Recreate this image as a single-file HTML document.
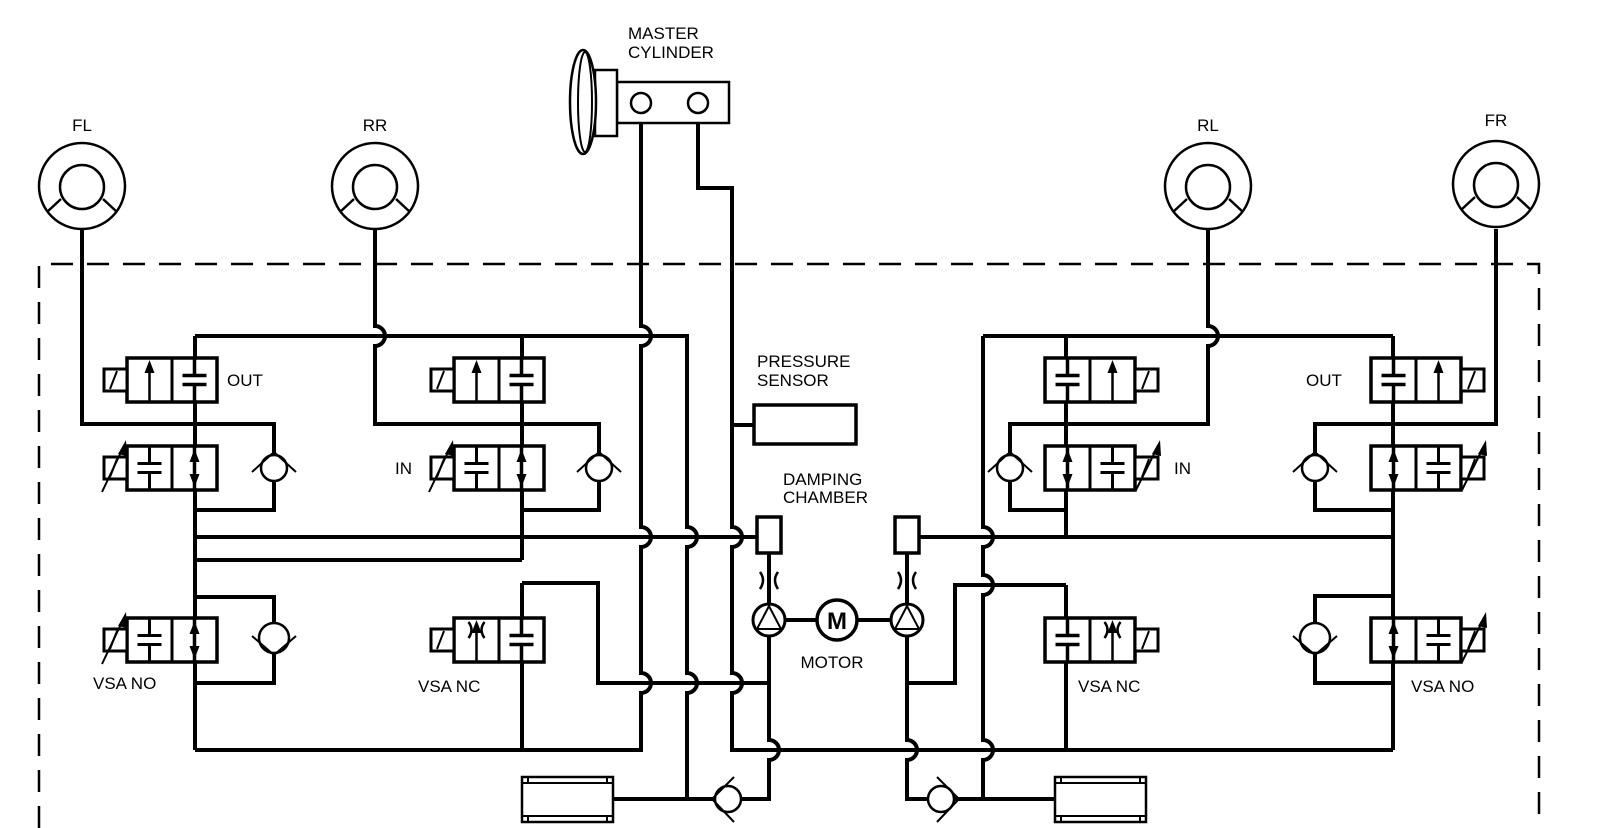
<!DOCTYPE html>
<html><head><meta charset="utf-8"><style>
html,body{margin:0;padding:0;background:#fff;width:1600px;height:828px;overflow:hidden}
svg{display:block}
text{font-family:"Liberation Sans",Arial,sans-serif;font-size:17px;fill:#000}
</style></head><body>
<svg width="1600" height="828" viewBox="0 0 1600 828" xmlns="http://www.w3.org/2000/svg">
<defs>
<g id="eqP"><path d="M0 -22V-4.5M-12 -4.5H12M-12 4.5H12M0 4.5V22" stroke="#000" stroke-width="3.5" fill="none"/></g>
<g id="eqT"><path d="M0 -22V-4.5M-12 -4.5H12M-12 4.5H12M0 4.5V22" stroke="#000" stroke-width="3" fill="none"/></g>
<g id="arU"><path d="M0 22V-10" stroke="#000" stroke-width="2.5"/><polygon points="0,-20 -5,-7 5,-7" fill="#000"/></g>
<g id="dbl"><path d="M0 -22V22" stroke="#000" stroke-width="3.5"/><polygon points="0,-19 -5,-6 5,-6" fill="#000"/><polygon points="0,19 -5,6 5,6" fill="#000"/></g>
<g id="ori"><path d="M-8 -18 Q-2 -10 -8 -2 M8 -18 Q2 -10 8 -2" stroke="#000" stroke-width="2.5" fill="none"/></g>
<g id="box"><rect x="-45" y="-22" width="90" height="44" fill="#fff" stroke="#000" stroke-width="3.5"/><path d="M0 -22V22" stroke="#000" stroke-width="3"/></g>
<g id="solL"><rect x="-68" y="-11" width="23" height="22" fill="#fff" stroke="#000" stroke-width="3"/><path d="M-62 9L-55 -9" stroke="#000" stroke-width="2"/></g>
<g id="solR"><rect x="45" y="-11" width="23" height="22" fill="#fff" stroke="#000" stroke-width="3"/><path d="M52 9L59 -9" stroke="#000" stroke-width="2"/></g>
<g id="varL"><path d="M-70 24L-50 -18" stroke="#000" stroke-width="2"/><polygon points="-46,-28 -54,-14 -45,-12" fill="#000"/></g>
<g id="varR"><path d="M46 22L66 -18" stroke="#000" stroke-width="2"/><polygon points="70,-28 62,-14 71,-12" fill="#000"/></g>
<g id="cvU"><circle r="13" fill="#fff" stroke="#000" stroke-width="2.5"/><path d="M-22 4L0 -16L22 4" stroke="#000" stroke-width="2" fill="none"/></g>
<g id="cvD"><circle r="15" fill="#fff" stroke="#000" stroke-width="2.5"/><path d="M-22 -2L0 17L22 -2" stroke="#000" stroke-width="2" fill="none"/></g>
<g id="pump"><circle r="16" fill="#fff" stroke="#000" stroke-width="3"/><path d="M0 -14L-12 9H12Z M-14 9H14" stroke="#000" stroke-width="2" fill="none"/></g>
<g id="wheel"><circle r="43" fill="#fff" stroke="#000" stroke-width="2.5"/><circle cy="1" r="22" fill="none" stroke="#000" stroke-width="2.5"/><path d="M-21 13L-35 26M21 13L35 26" stroke="#000" stroke-width="2.5"/></g>
<g id="acc"><rect x="0" y="0" width="91" height="45" fill="#fff" stroke="#000" stroke-width="2.5"/><path d="M0 6H91M0 39H91M6 0V6M85 0V6M6 39V45M85 39V45" stroke="#000" stroke-width="2" fill="none"/></g>
</defs>

<!-- dashed module outline -->
<path d="M39 828V264H1539V828" stroke="#000" stroke-width="2.5" fill="none" stroke-dasharray="22 14"/>

<!-- pipes -->
<g stroke="#000" stroke-width="4" fill="none" stroke-linejoin="miter">
<path d="M82 229V424H274V455M274 481V510H195"/>
<path d="M195 336V750"/>
<path d="M195 336H687V527A10 10 0 0 1 687 547V673A10 10 0 0 1 687 693V799"/>
<path d="M375 229V326A10 10 0 0 1 375 346V424H599V455M599 481V510H522"/>
<path d="M522 336V560M195 560H522"/>
<path d="M195 537H757"/>
<path d="M641 113V326A10 10 0 0 1 641 346V527A10 10 0 0 1 641 547V673A10 10 0 0 1 641 693V750H195"/>
<path d="M698 113V188H732V527A10 10 0 0 1 732 547V673A10 10 0 0 1 732 693V750H1393"/>
<path d="M732 425H754"/>
<path d="M522 583V750M522 583H598V683H769"/>
<path d="M195 597H274V623M274 653V683H195"/>
<path d="M769 553V604M769 636V740A10 10 0 0 1 769 760V799H741M613 799H715"/>
<path d="M785 620H817M857 620H891"/>
<path d="M907 553V604M907 636V683H955V585H1066M907 683V740A10 10 0 0 1 907 760V799H928M954 799H1055"/>
<path d="M983 336V527A10 10 0 0 1 983 547V575A10 10 0 0 1 983 595V740A10 10 0 0 1 983 760V799"/>
<path d="M983 336H1393M919 537H1393"/>
<path d="M1208 229V326A10 10 0 0 1 1208 346V424H1010V455M1010 481V510H1066"/>
<path d="M1066 336V537M1066 585V750"/>
<path d="M1496 229V424H1315V455M1315 481V510H1393"/>
<path d="M1393 336V750M1393 596H1315V623M1315 653V683H1393"/>
</g>

<!-- wheels -->
<use href="#wheel" x="82" y="186"/>
<use href="#wheel" x="375" y="186"/>
<use href="#wheel" x="1208" y="186"/>
<use href="#wheel" x="1496" y="184"/>
<text x="82" y="131" text-anchor="middle">FL</text>
<text x="375" y="131" text-anchor="middle">RR</text>
<text x="1208" y="131" text-anchor="middle">RL</text>
<text x="1496" y="126" text-anchor="middle">FR</text>

<!-- master cylinder -->
<rect x="617" y="82" width="112" height="41" fill="#fff" stroke="#000" stroke-width="2.5"/>
<rect x="595" y="70" width="22" height="66" fill="#fff" stroke="#000" stroke-width="2.5"/>
<ellipse cx="583" cy="102" rx="13" ry="52" fill="#fff" stroke="#000" stroke-width="2.5"/>
<ellipse cx="585" cy="102" rx="7" ry="50" fill="none" stroke="#000" stroke-width="2"/>
<circle cx="641" cy="103" r="10" fill="#fff" stroke="#000" stroke-width="2.5"/>
<circle cx="698" cy="103" r="10" fill="#fff" stroke="#000" stroke-width="2.5"/>
<text x="628" y="39">MASTER</text>
<text x="628" y="58">CYLINDER</text>

<!-- pressure sensor -->
<rect x="754" y="405" width="102" height="39" fill="#fff" stroke="#000" stroke-width="3.5"/>
<text x="757" y="367">PRESSURE</text>
<text x="757" y="386">SENSOR</text>

<!-- damping chambers, orifices, pumps, motor -->
<rect x="757" y="517" width="24" height="36" fill="#fff" stroke="#000" stroke-width="3.5"/>
<rect x="895" y="517" width="24" height="36" fill="#fff" stroke="#000" stroke-width="3.5"/>
<path d="M760 572Q766 580 760 589M778 572Q772 580 778 589M898 572Q904 580 898 589M916 572Q910 580 916 589" stroke="#000" stroke-width="2.5" fill="none"/>
<use href="#pump" x="769" y="620"/>
<use href="#pump" x="907" y="620"/>
<circle cx="837" cy="620" r="20" fill="#fff" stroke="#000" stroke-width="3.5"/>
<text x="837" y="629" text-anchor="middle" style="font-size:24px;font-weight:bold">M</text>
<text x="832" y="668" text-anchor="middle">MOTOR</text>
<text x="783" y="485">DAMPING</text>
<text x="783" y="503">CHAMBER</text>

<!-- accumulators and bottom check valves -->
<use href="#acc" x="522" y="777"/>
<use href="#acc" x="1055" y="777"/>
<circle cx="728" cy="799" r="13" fill="#fff" stroke="#000" stroke-width="2.5"/>
<path d="M734 777L712 799L734 822" stroke="#000" stroke-width="2" fill="none"/>
<circle cx="941" cy="799" r="13" fill="#fff" stroke="#000" stroke-width="2.5"/>
<path d="M937 777L959 799L937 822" stroke="#000" stroke-width="2" fill="none"/>

<!-- check valves -->
<use href="#cvU" x="274" y="468"/>
<use href="#cvU" x="599" y="468"/>
<use href="#cvU" x="1010" y="468"/>
<use href="#cvU" x="1315" y="468"/>
<use href="#cvD" x="274" y="638"/>
<use href="#cvD" x="1315" y="638"/>

<!-- LEFT valves -->
<g transform="translate(172,380)"><use href="#box"/><use href="#solL"/><use href="#arU" x="-22.5"/><use href="#eqP" x="22.5"/></g>
<g transform="translate(172,468)"><use href="#box"/><use href="#solL"/><use href="#varL"/><use href="#eqT" x="-22.5"/><use href="#dbl" x="22.5"/></g>
<g transform="translate(172,640)"><use href="#box"/><use href="#solL"/><use href="#varL"/><use href="#eqT" x="-22.5"/><use href="#dbl" x="22.5"/></g>
<g transform="translate(499,380)"><use href="#box"/><use href="#solL"/><use href="#arU" x="-22.5"/><use href="#eqP" x="22.5"/></g>
<g transform="translate(499,468)"><use href="#box"/><use href="#solL"/><use href="#varL"/><use href="#eqT" x="-22.5"/><use href="#dbl" x="22.5"/></g>
<g transform="translate(499,640)"><use href="#box"/><use href="#solL"/><use href="#arU" x="-22.5"/><use href="#ori" x="-22.5"/><use href="#eqP" x="22.5"/></g>

<!-- RIGHT valves -->
<g transform="translate(1090,380)"><use href="#box"/><use href="#solR"/><use href="#eqP" x="-22.5"/><use href="#arU" x="22.5"/></g>
<g transform="translate(1090,468)"><use href="#box"/><use href="#solR"/><use href="#varR"/><use href="#dbl" x="-22.5"/><use href="#eqT" x="22.5"/></g>
<g transform="translate(1090,640)"><use href="#box"/><use href="#solR"/><use href="#eqP" x="-22.5"/><use href="#arU" x="22.5"/><use href="#ori" x="22.5"/></g>
<g transform="translate(1416,380)"><use href="#box"/><use href="#solR"/><use href="#eqP" x="-22.5"/><use href="#arU" x="22.5"/></g>
<g transform="translate(1416,468)"><use href="#box"/><use href="#solR"/><use href="#varR"/><use href="#dbl" x="-22.5"/><use href="#eqT" x="22.5"/></g>
<g transform="translate(1416,640)"><use href="#box"/><use href="#solR"/><use href="#varR"/><use href="#dbl" x="-22.5"/><use href="#eqT" x="22.5"/></g>

<!-- labels -->
<text x="227" y="386">OUT</text>
<text x="395" y="474">IN</text>
<text x="93" y="689">VSA NO</text>
<text x="418" y="692">VSA NC</text>
<text x="1174" y="474">IN</text>
<text x="1306" y="386">OUT</text>
<text x="1078" y="692">VSA NC</text>
<text x="1411" y="692">VSA NO</text>
</svg>
</body></html>
